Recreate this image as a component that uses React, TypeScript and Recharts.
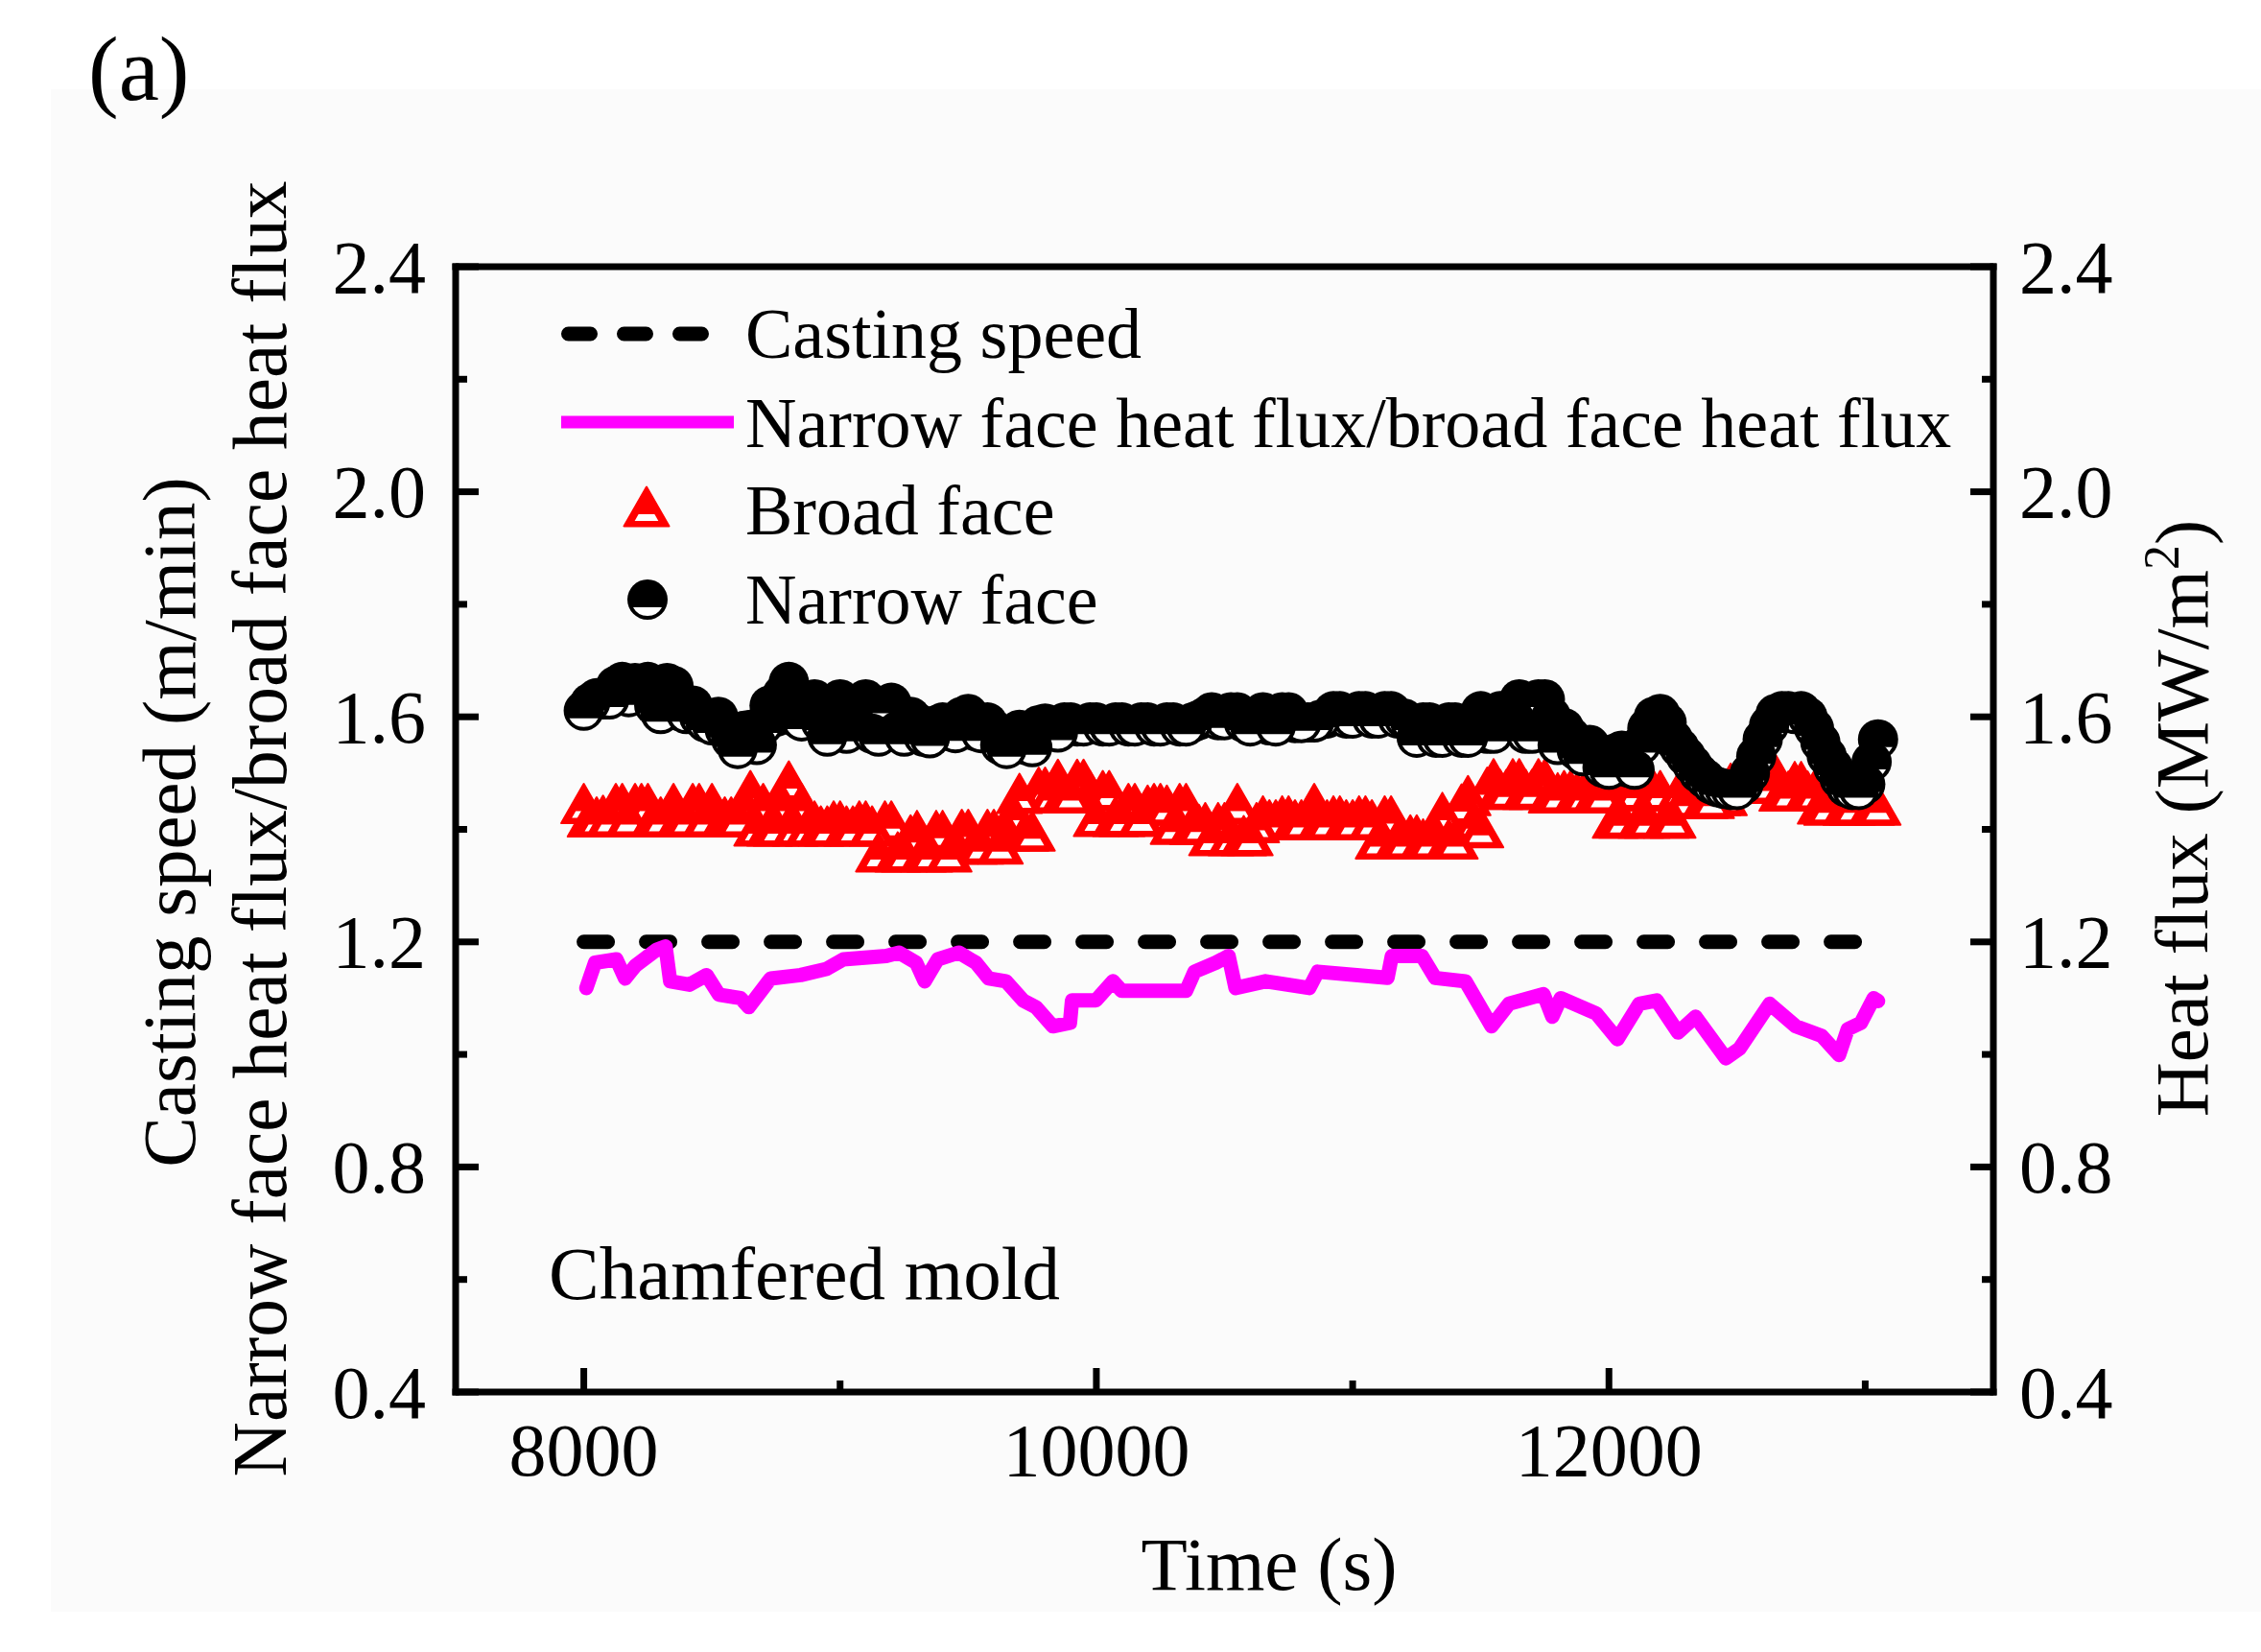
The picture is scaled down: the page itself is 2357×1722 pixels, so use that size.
import React from 'react';
import { ComposedChart, Line, Scatter, XAxis, YAxis } from 'recharts';

const W = 2357;
const H = 1722;
const FONT = '"Liberation Serif", "Times New Roman", Times, serif';

// ---- axis ticks ----
const timeAxisTicks = [8000, 9000, 10000, 11000, 12000, 13000];
const valueAxisTicks = [0.4, 0.6, 0.8, 1.0, 1.2, 1.4, 1.6, 1.8, 2.0, 2.2, 2.4];

// ---- casting speed ----
const castingTime = [8000, 13050];
const castingSpeed = [1.2, 1.2];

// ---- narrow face heat flux / broad face heat flux ----
const ratioTime = [
  8010, 8044, 8127, 8161, 8202, 8284, 8319, 8337, 8412, 8479, 8528, 8612, 8644, 8729,
  8846, 8947, 9013, 9180, 9230, 9297, 9330, 9381, 9464, 9530, 9580, 9647, 9714, 9764,
  9830, 9897, 9905, 9998, 10065, 10099, 10350, 10383, 10466, 10516, 10543, 10660, 10831,
  10864, 11136, 11153, 11270, 11322, 11440, 11542, 11610, 11745, 11779, 11812, 11950,
  12033, 12118, 12186, 12270, 12338, 12456, 12509, 12627, 12729, 12830, 12898, 12932,
  12983, 13033, 13050,
];
const ratioValue = [
  1.118, 1.163, 1.169, 1.135, 1.158, 1.186, 1.192, 1.13, 1.124, 1.141, 1.106, 1.1, 1.084, 1.135,
  1.141, 1.152, 1.169, 1.175, 1.181, 1.163, 1.13, 1.169, 1.181, 1.163, 1.135, 1.13, 1.096, 1.084,
  1.05, 1.056, 1.096, 1.096, 1.13, 1.113, 1.113, 1.147, 1.163, 1.175, 1.118, 1.13, 1.118,
  1.147, 1.136, 1.175, 1.175, 1.136, 1.13, 1.05, 1.09, 1.107, 1.067, 1.1, 1.073,
  1.027, 1.09, 1.096, 1.039, 1.067, 0.993, 1.01, 1.09, 1.05, 1.033, 0.999, 1.045,
  1.056, 1.1, 1.095,
];

// ---- heat flux samples (broad face / narrow face) ----
const faceTime = [
  8000, 8025, 8050, 8075, 8100, 8125, 8150, 8175,
  8200, 8225, 8250, 8275, 8300, 8325, 8350, 8375,
  8400, 8425, 8450, 8475, 8500, 8525, 8550, 8575,
  8600, 8625, 8650, 8675, 8700, 8725, 8750, 8775,
  8800, 8825, 8850, 8875, 8900, 8925, 8950, 8975,
  9000, 9025, 9050, 9075, 9100, 9125, 9150, 9175,
  9200, 9225, 9250, 9275, 9300, 9325, 9350, 9375,
  9400, 9425, 9450, 9475, 9500, 9525, 9550, 9575,
  9600, 9625, 9650, 9675, 9700, 9725, 9750, 9775,
  9800, 9825, 9850, 9875, 9900, 9925, 9950, 9975,
  10000, 10025, 10050, 10075, 10100, 10125, 10150, 10175,
  10200, 10225, 10250, 10275, 10300, 10325, 10350, 10375,
  10400, 10425, 10450, 10475, 10500, 10525, 10550, 10575,
  10600, 10625, 10650, 10675, 10700, 10725, 10750, 10775,
  10800, 10825, 10850, 10875, 10900, 10925, 10950, 10975,
  11000, 11025, 11050, 11075, 11100, 11125, 11150, 11175,
  11200, 11225, 11250, 11275, 11300, 11325, 11350, 11375,
  11400, 11425, 11450, 11475, 11500, 11525, 11550, 11575,
  11600, 11625, 11650, 11675, 11700, 11725, 11750, 11775,
  11800, 11825, 11850, 11875, 11900, 11925, 11950, 11975,
  12000, 12025, 12050, 12075, 12100, 12125, 12150, 12175,
  12200, 12225, 12250, 12275, 12300, 12325, 12350, 12375,
  12400, 12425, 12450, 12475, 12500, 12525, 12550, 12575,
  12600, 12625, 12650, 12675, 12700, 12725, 12750, 12775,
  12800, 12825, 12850, 12875, 12900, 12925, 12950, 12975,
  13000, 13025, 13050,
];
const broadFace = [
  1.446, 1.422, 1.422, 1.425, 1.422, 1.446, 1.446, 1.422,
  1.446, 1.446, 1.446, 1.422, 1.422, 1.425, 1.446, 1.422,
  1.422, 1.446, 1.446, 1.422, 1.446, 1.425, 1.422, 1.422,
  1.422, 1.446, 1.469, 1.406, 1.446, 1.406, 1.406, 1.446,
  1.486, 1.406, 1.446, 1.406, 1.415, 1.406, 1.406, 1.415,
  1.415, 1.406, 1.406, 1.415, 1.415, 1.406, 1.36, 1.415,
  1.415, 1.36, 1.36, 1.39, 1.398, 1.36, 1.36, 1.398,
  1.398, 1.36, 1.374, 1.4, 1.4, 1.374, 1.374, 1.4,
  1.4, 1.374, 1.397, 1.43, 1.464, 1.397, 1.397, 1.475,
  1.475, 1.465, 1.489, 1.465, 1.465, 1.489, 1.489, 1.469,
  1.423, 1.469, 1.469, 1.423, 1.423, 1.446, 1.446, 1.423,
  1.443, 1.446, 1.446, 1.443, 1.409, 1.446, 1.446, 1.409,
  1.409, 1.412, 1.389, 1.412, 1.412, 1.389, 1.446, 1.389,
  1.389, 1.412, 1.424, 1.417, 1.417, 1.424, 1.424, 1.417,
  1.417, 1.424, 1.446, 1.417, 1.417, 1.424, 1.424, 1.417,
  1.417, 1.424, 1.424, 1.417, 1.383, 1.424, 1.424, 1.383,
  1.383, 1.39, 1.39, 1.383, 1.383, 1.39, 1.43, 1.383,
  1.383, 1.445, 1.46, 1.415, 1.403, 1.475, 1.49, 1.471,
  1.471, 1.49, 1.49, 1.471, 1.471, 1.49, 1.49, 1.465,
  1.465, 1.469, 1.469, 1.465, 1.465, 1.469, 1.465, 1.465,
  1.469, 1.42, 1.42, 1.469, 1.469, 1.42, 1.42, 1.469,
  1.469, 1.42, 1.42, 1.469, 1.455, 1.46, 1.46, 1.455,
  1.455, 1.46, 1.46, 1.482, 1.482, 1.49, 1.49, 1.482,
  1.482, 1.49, 1.498, 1.468, 1.468, 1.485, 1.485, 1.468,
  1.468, 1.445, 1.443, 1.445, 1.445, 1.443, 1.443, 1.445,
  1.445, 1.443, 1.443,
];
const narrowFace = [
  1.611, 1.625, 1.633, 1.631, 1.631, 1.655, 1.662, 1.635,
  1.66, 1.64, 1.662, 1.62, 1.605, 1.66, 1.655, 1.61,
  1.605, 1.62, 1.6, 1.59, 1.585, 1.6, 1.577, 1.56,
  1.543, 1.575, 1.577, 1.55, 1.585, 1.62, 1.6, 1.64,
  1.662, 1.6, 1.592, 1.625, 1.631, 1.59, 1.565, 1.62,
  1.631, 1.57, 1.6, 1.625, 1.631, 1.57, 1.565, 1.62,
  1.625, 1.575, 1.565, 1.6, 1.59, 1.565, 1.562, 1.585,
  1.59, 1.575, 1.571, 1.6, 1.605, 1.575, 1.571, 1.59,
  1.577, 1.55, 1.543, 1.57, 1.577, 1.55, 1.546, 1.585,
  1.588, 1.575, 1.572, 1.59, 1.59, 1.583, 1.583, 1.59,
  1.59, 1.583, 1.583, 1.59, 1.59, 1.583, 1.583, 1.59,
  1.59, 1.583, 1.583, 1.59, 1.59, 1.583, 1.583, 1.59,
  1.594, 1.6, 1.608, 1.594, 1.594, 1.608, 1.608, 1.59,
  1.583, 1.6, 1.608, 1.585, 1.583, 1.608, 1.608, 1.589,
  1.589, 1.59, 1.59, 1.595, 1.597, 1.61, 1.61, 1.597,
  1.597, 1.61, 1.61, 1.597, 1.597, 1.61, 1.61, 1.597,
  1.597, 1.59, 1.563, 1.59, 1.59, 1.563, 1.563, 1.59,
  1.59, 1.563, 1.563, 1.59, 1.61, 1.57, 1.57, 1.61,
  1.61, 1.6, 1.631, 1.57, 1.57, 1.631, 1.631, 1.6,
  1.55, 1.58, 1.565, 1.54, 1.53, 1.55, 1.537, 1.51,
  1.506, 1.535, 1.54, 1.51, 1.506, 1.55, 1.58, 1.6,
  1.605, 1.59, 1.56, 1.545, 1.53, 1.515, 1.5, 1.49,
  1.48, 1.475, 1.472, 1.47, 1.47, 1.48, 1.5, 1.53,
  1.56, 1.585, 1.605, 1.61, 1.61, 1.605, 1.61, 1.6,
  1.58, 1.555, 1.53, 1.51, 1.49, 1.475, 1.47, 1.47,
  1.48, 1.52, 1.56,
];

const castingData = castingTime.map((t, i) => ({ t, v: castingSpeed[i] }));
const ratioData = ratioTime.map((t, i) => ({ t, v: ratioValue[i] }));
// markers are layered from the highest to the lowest value so the lower ones sit on top
const byValueDesc = (a: { t: number; v: number }, b: { t: number; v: number }) => b.v - a.v || a.t - b.t;
const broadData = faceTime.map((t, i) => ({ t, v: broadFace[i] })).sort(byValueDesc);
const narrowData = faceTime.map((t, i) => ({ t, v: narrowFace[i] })).sort(byValueDesc);

const RED = '#ff0000';
const MAGENTA = '#ff00ff';

function TriangleMarker(props: any) {
  const { cx, cy } = props;
  if (cx == null || cy == null) return <g />;
  const hw = 23.5;
  const hh = 20.5;
  const wAt = (y: number) => (hw * (y - (cy - hh))) / (2 * hh);
  const y1 = cy + 8;
  const y2 = cy + 15;
  const inset = 8;
  return (
    <g>
      <polygon
        points={`${cx},${cy - hh} ${cx - hw},${cy + hh} ${cx + hw},${cy + hh}`}
        fill={RED}
        stroke={RED}
        strokeWidth={2}
        strokeLinejoin="round"
      />
      <polygon
        points={`${cx - wAt(y1) + inset},${y1} ${cx + wAt(y1) - inset},${y1} ${cx + wAt(y2) - inset},${y2} ${cx - wAt(y2) + inset},${y2}`}
        fill="#ffffff"
      />
    </g>
  );
}

function CircleMarker(props: any) {
  const { cx, cy } = props;
  if (cx == null || cy == null) return <g />;
  const r = 17;
  const d = 8;
  const hx = Math.sqrt(r * r - d * d);
  return (
    <g>
      <circle cx={cx} cy={cy} r={21} fill="#000" />
      <path d={`M ${cx - hx} ${cy + d} A ${r} ${r} 0 0 0 ${cx + hx} ${cy + d} Z`} fill="#ffffff" />
    </g>
  );
}

function LeftTick(props: any) {
  const { x, y, payload } = props;
  const v = Number(payload.value);
  const major = Math.round(v * 10) % 4 === 0;
  return (
    <g>
      <line x1={x} y1={y} x2={x + (major ? 24 : 12)} y2={y} stroke="#000" strokeWidth={7} />
      {major && (
        <text x={x - 31} y={y} textAnchor="end" dominantBaseline="central" fontFamily={FONT} fontSize={78} fill="#000">
          {v.toFixed(1)}
        </text>
      )}
    </g>
  );
}

function RightTick(props: any) {
  const { x, y, payload } = props;
  const v = Number(payload.value);
  const major = Math.round(v * 10) % 4 === 0;
  return (
    <g>
      <line x1={x} y1={y} x2={x - (major ? 24 : 12)} y2={y} stroke="#000" strokeWidth={7} />
      {major && (
        <text x={x + 27} y={y} textAnchor="start" dominantBaseline="central" fontFamily={FONT} fontSize={78} fill="#000">
          {v.toFixed(1)}
        </text>
      )}
    </g>
  );
}

function BottomTick(props: any) {
  const { x, y, payload } = props;
  const v = Number(payload.value);
  const major = v % 2000 === 0;
  return (
    <g>
      <line x1={x} y1={y} x2={x} y2={y - (major ? 25 : 12)} stroke="#000" strokeWidth={7} />
      {major && (
        <text x={x} y={y + 87} textAnchor="middle" fontFamily={FONT} fontSize={78} fill="#000">
          {String(v)}
        </text>
      )}
    </g>
  );
}

const axisLineStyle = { stroke: '#000', strokeWidth: 7, strokeLinecap: 'square' as const };

export default function App() {
  return (
    <div style={{ position: 'absolute', left: 0, top: 0, width: W, height: H, background: '#ffffff', overflow: 'hidden' }}>
      <div style={{ position: 'absolute', left: 53, top: 93, width: W - 53, height: 1587, background: '#fbfbfb' }} />
      <div style={{ position: 'absolute', left: 0, top: 0 }}>
        <ComposedChart width={W} height={H} margin={{ top: 277, right: 278, bottom: 270, left: 474 }}>
          <XAxis
            dataKey="t"
            type="number"
            domain={[7500, 13500]}
            ticks={timeAxisTicks}
            interval={0}
            height={1}
            tickLine={false}
            tickSize={0}
            tickMargin={0}
            tick={BottomTick}
            axisLine={axisLineStyle}
            allowDataOverflow
          />
          <XAxis
            xAxisId="top"
            orientation="top"
            type="number"
            domain={[7500, 13500]}
            ticks={timeAxisTicks}
            interval={0}
            height={1}
            tick={false}
            tickLine={false}
            axisLine={axisLineStyle}
            allowDataOverflow
          />
          <YAxis
            dataKey="v"
            type="number"
            domain={[0.4, 2.4]}
            ticks={valueAxisTicks}
            interval={0}
            width={1}
            tickLine={false}
            tickSize={0}
            tickMargin={0}
            tick={LeftTick}
            axisLine={axisLineStyle}
            allowDataOverflow
          />
          <YAxis
            yAxisId="right"
            orientation="right"
            type="number"
            domain={[0.4, 2.4]}
            ticks={valueAxisTicks}
            interval={0}
            width={1}
            tickLine={false}
            tickSize={0}
            tickMargin={0}
            tick={RightTick}
            axisLine={axisLineStyle}
            allowDataOverflow
          />
          <Line
            data={castingData}
            dataKey="v"
            type="linear"
            stroke="#000"
            strokeWidth={15}
            strokeDasharray="25 40"
            strokeLinecap="round"
            dot={false}
            activeDot={false}
            isAnimationActive={false}
          />
          <Line
            data={ratioData}
            dataKey="v"
            type="linear"
            stroke={MAGENTA}
            strokeWidth={15}
            strokeLinejoin="round"
            strokeLinecap="round"
            dot={false}
            activeDot={false}
            isAnimationActive={false}
          />
          <Scatter data={broadData} dataKey="v" shape={TriangleMarker} isAnimationActive={false} />
          <Scatter data={narrowData} dataKey="v" shape={CircleMarker} isAnimationActive={false} />
        </ComposedChart>
      </div>
      <svg width={W} height={H} style={{ position: 'absolute', left: 0, top: 0, pointerEvents: 'none' }}>
        <text x={92} y={104} fontFamily={FONT} fontSize={95} fill="#000">(a)</text>

        {/* legend */}
        <line x1={592.5} y1={348} x2={735} y2={348} stroke="#000" strokeWidth={15} strokeDasharray="23 35" strokeLinecap="round" />
        <text x={777} y={373} fontFamily={FONT} fontSize={74} fill="#000">Casting speed</text>
        <line x1={585} y1={440} x2={765} y2={440} stroke={MAGENTA} strokeWidth={13} />
        <text x={777} y={466} fontFamily={FONT} fontSize={74} fill="#000">Narrow face heat flux/broad face heat flux</text>
        <TriangleMarker cx={674} cy={528} />
        <text x={777} y={557} fontFamily={FONT} fontSize={74} fill="#000">Broad face</text>
        <CircleMarker cx={675} cy={625} />
        <text x={777} y={650} fontFamily={FONT} fontSize={74} fill="#000">Narrow face</text>

        <text x={572} y={1354} fontFamily={FONT} fontSize={79} fill="#000">Chamfered mold</text>

        {/* axis titles */}
        <text x={1323} y={1657} textAnchor="middle" fontFamily={FONT} fontSize={79} fill="#000">Time (s)</text>
        <text x={203} y={857} transform="rotate(-90 203 857)" textAnchor="middle" fontFamily={FONT} fontSize={79} fill="#000">
          Casting speed (m/min)
        </text>
        <text x={298} y={864} transform="rotate(-90 298 864)" textAnchor="middle" fontFamily={FONT} fontSize={79.5} fill="#000">
          Narrow face heat flux/broad face heat flux
        </text>
        <text x={2301} y={853} transform="rotate(-90 2301 853)" textAnchor="middle" fontFamily={FONT} fontSize={79} fill="#000">
          Heat flux (MW/m<tspan fontSize={52} dy={-30}>2</tspan><tspan dy={30}>)</tspan>
        </text>
      </svg>
    </div>
  );
}
